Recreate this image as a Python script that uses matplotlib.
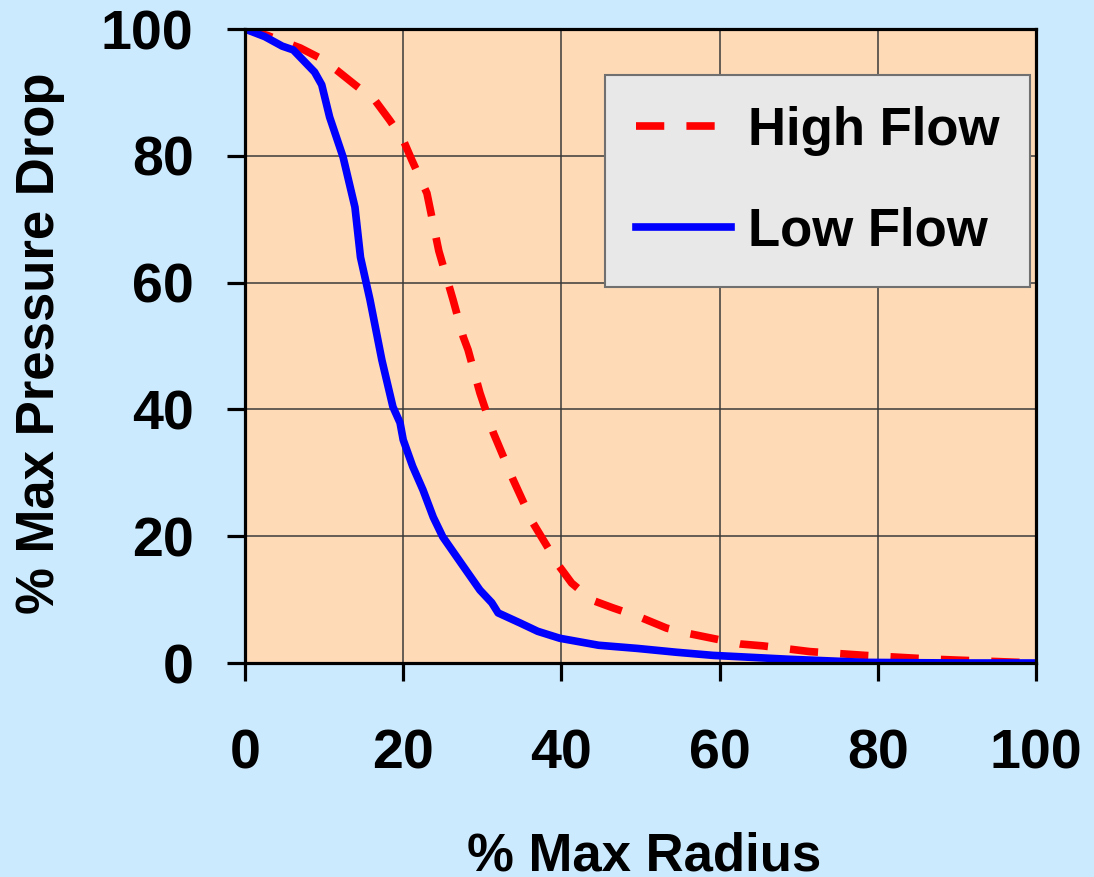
import matplotlib
matplotlib.use("Agg")
import matplotlib.pyplot as plt

# values
radius_low = [0, 2.5, 4.7, 6.1, 8.8, 9.7, 10.7, 12.4, 13.9, 14.6, 15.8, 17.3,
              18.7, 19.6, 20.0, 21.2, 22.5, 23.8, 25.0, 27.4, 29.7, 31.2, 32.0,
              34.8, 37.0, 39.8, 44.7, 49.6, 54.5, 59.2, 68.6, 78.4, 90, 100]
drop_low = [100, 98.8, 97.3, 96.7, 93.2, 91.2, 86.1, 79.8, 71.9, 64.0, 57.3,
            47.8, 40.4, 37.9, 35.2, 31.0, 27.3, 23.0, 19.9, 15.6, 11.5, 9.5,
            7.9, 6.3, 5.0, 3.9, 2.8, 2.3, 1.7, 1.2, 0.6, 0.1, 0, 0]

radius_high = [0, 2.8, 7.0, 9.5, 11.6, 13.9, 16.4, 18.3, 20.0, 21.1, 23.0,
               24.5, 26.3, 27.6, 28.2, 29.7, 31.4, 33.9, 36.4, 39.7, 41.3,
               43.9, 46.5, 50, 53.3, 55.9, 62.6, 65.5, 71.4, 78.4, 87, 100]
drop_high = [100, 99, 97, 95.4, 93.5, 91.2, 88.8, 85.6, 82.5, 79.3, 74.1, 65,
             57.3, 51.4, 49.4, 42.6, 36.3, 28.9, 22.1, 15.3, 12.6, 9.9, 8.7,
             7.2, 5.5, 4.7, 3.0, 2.7, 1.8, 1.2, 0.6, 0]

ticks = [0, 20, 40, 60, 80, 100]

plt.rcParams['font.family'] = ['Liberation Sans', 'DejaVu Sans']
plt.rcParams['font.weight'] = 'bold'
TICK_FS = 40
LABEL_FS = 38

fig = plt.figure(figsize=(10.94, 8.77), dpi=100, facecolor='#CCEAFE')
# axes box: x 245..1036 px, y 29..663 px
ax = fig.add_axes([245 / 1094, 1 - 663 / 877, 791 / 1094, 634 / 877],
                  facecolor='#FFDAB6')

ax.plot(radius_high, drop_high, color='#FF0000', lw=5.5,
        linestyle=(0, (3.7, 2.9)), label='High Flow')
ax.plot(radius_low, drop_low, color='#0000FF', lw=5.5, label='Low Flow')

ax.set_xlim(0, 100)
ax.set_ylim(0, 100)
ax.set_xticks(ticks)
ax.set_yticks(ticks)
ax.grid(True, color='#3a3a3a', lw=1.1)
ax.set_axisbelow(True)

for s in ax.spines.values():
    s.set_linewidth(2.3)
    s.set_color('black')

ax.tick_params(axis='both', direction='out', length=13, width=2.3,
               labelsize=TICK_FS, colors='black')
ax.tick_params(axis='x', pad=34)
ax.tick_params(axis='y', pad=24)
for lab in ax.get_xticklabels() + ax.get_yticklabels():
    lab.set_fontweight('bold')

ax.set_xlabel('% Max Radius', fontsize=LABEL_FS, fontweight='bold', va='center')
ax.xaxis.set_label_coords(0.505, -0.305)
ax.set_ylabel('% Max Pressure Drop', fontsize=LABEL_FS, fontweight='bold', va='center')
ax.yaxis.set_label_coords(-0.259, 0.505)

leg = ax.legend(loc='upper right', bbox_to_anchor=((1030 - 245) / 791, (663 - 75) / 634),
                borderaxespad=0, fancybox=False, framealpha=1,
                facecolor='#E8E8E8', edgecolor='#707070',
                prop={'size': LABEL_FS, 'weight': 'bold'},
                handlelength=1.8, handletextpad=0.32, labelspacing=0.97,
                borderpad=0.58)
leg.get_frame().set_linewidth(1.5)

fig.savefig('out.png', dpi=100, facecolor=fig.get_facecolor())
